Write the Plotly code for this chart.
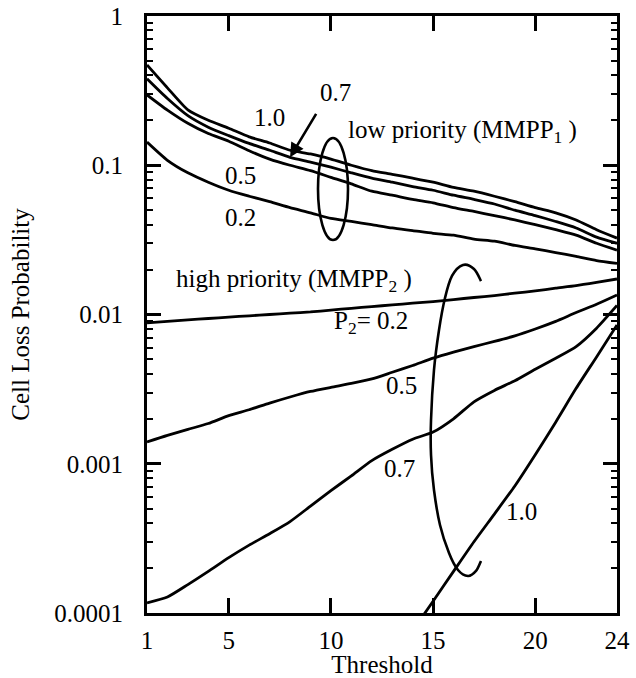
import math
import plotly.graph_objects as go

# Threshold values (buffer threshold setting)
threshold = list(range(1, 25))

# Low-priority (MMPP1) cell loss probability, one series per P2
lp_p10 = [0.47, 0.33, 0.235, 0.200, 0.177, 0.155, 0.141, 0.126, 0.119, 0.110, 0.100, 0.092,
          0.087, 0.082, 0.077, 0.071, 0.067, 0.062, 0.057, 0.052, 0.048, 0.043, 0.037, 0.0325]
lp_p07 = [0.38, 0.28, 0.215, 0.180, 0.158, 0.140, 0.126, 0.113, 0.105, 0.097, 0.089, 0.082,
          0.077, 0.072, 0.068, 0.063, 0.059, 0.055, 0.050, 0.046, 0.042, 0.038, 0.033, 0.030]
lp_p05 = [0.296, 0.234, 0.191, 0.163, 0.145, 0.125, 0.110, 0.100, 0.092, 0.083, 0.075, 0.067,
          0.063, 0.059, 0.056, 0.052, 0.049, 0.046, 0.043, 0.040, 0.037, 0.034, 0.030, 0.027]
lp_p02 = [0.143, 0.108, 0.089, 0.077, 0.068, 0.062, 0.057, 0.052, 0.048, 0.044, 0.042, 0.040,
          0.038, 0.0365, 0.035, 0.034, 0.032, 0.031, 0.029, 0.0275, 0.026, 0.0245, 0.023, 0.022]

# High-priority (MMPP2) cell loss probability
hp_p02 = [0.0088, 0.0090, 0.0092, 0.0094, 0.0096, 0.0098, 0.0100, 0.0102, 0.0104, 0.0107,
          0.0110, 0.0113, 0.0116, 0.0119, 0.0122, 0.0126, 0.0130, 0.0134, 0.0139, 0.0144,
          0.0150, 0.0156, 0.0164, 0.0173]
hp_p05 = [0.00140, 0.00155, 0.00170, 0.00186, 0.00210, 0.00230, 0.00255, 0.00280, 0.00305,
          0.00325, 0.00345, 0.00370, 0.00410, 0.00455, 0.00510, 0.00560, 0.00610, 0.00660,
          0.00720, 0.00800, 0.00900, 0.01030, 0.01170, 0.01350]
hp_p07 = [0.000117, 0.000128, 0.000155, 0.000190, 0.000235, 0.000285, 0.000340, 0.000410,
          0.000520, 0.000660, 0.000830, 0.00105, 0.00125, 0.00146, 0.00163, 0.00200,
          0.00260, 0.00310, 0.00360, 0.00430, 0.00510, 0.00610, 0.00810, 0.01150]
hp_p10_threshold = list(range(14, 25))
hp_p10 = [0.000076, 0.00012, 0.00019, 0.00030, 0.00046, 0.00071, 0.00115, 0.0019,
          0.0032, 0.0052, 0.0085]

# Axis ticks
x_tickvals = [1, 5, 10, 15, 20, 24]
y_tickvals = [0.0001, 0.001, 0.01, 0.1, 1]
y_ticktext = ["0.0001", "0.001", "0.01", "0.1", "1"]

FONT = "Liberation Serif, Times New Roman, serif"
FS = 25
W, H = 636, 678
ML, MR, MT, MB = 147, 19, 16, 65
PW, PH = W - ML - MR, H - MT - MB


def paper(px, py):
    """Page pixel -> paper fraction of the plotting area."""
    return (px - ML) / PW, (MT + PH - py) / PH


fig = go.Figure()
line_style = dict(color="black", width=2.8)
for ys in (lp_p10, lp_p07, lp_p05, lp_p02, hp_p02, hp_p05, hp_p07):
    fig.add_trace(go.Scatter(x=threshold, y=ys, mode="lines", line=line_style,
                             line_shape="spline", line_smoothing=0.6,
                             showlegend=False, hoverinfo="skip"))
fig.add_trace(go.Scatter(x=hp_p10_threshold, y=hp_p10, mode="lines", line=line_style,
                         line_shape="spline", line_smoothing=0.6,
                         showlegend=False, hoverinfo="skip"))

annotations = []


def label(text, px, py, anchor="center"):
    xp, yp = paper(px, py)
    annotations.append(dict(text=text, x=xp, y=yp, xref="paper", yref="paper",
                            xanchor=anchor, yanchor="middle", showarrow=False,
                            font=dict(family=FONT, size=FS, color="black")))


# low-priority group labels
label("1.0", 269, 117)
label("0.7", 335, 93)
label("0.5", 240, 175)
label("0.2", 240, 217)
label("low priority (MMPP<sub>1</sub> )", 346, 131, "left")
# high-priority group labels
label("high priority (MMPP<sub>2</sub> )", 174, 280, "left")
label("P<sub>2</sub>= 0.2", 332, 322, "left")
label("0.5", 401, 386)
label("0.7", 399, 468)
label("1.0", 521, 511)

# arrow pointing at the P2 = 0.7 low-priority curve
arrow_x = 8
annotations.append(dict(text="", x=arrow_x, y=math.log10(lp_p07[threshold.index(arrow_x)]),
                        xref="x", yref="y", showarrow=True, ax=27, ay=-45,
                        arrowhead=2, arrowsize=1.1, arrowwidth=2.6, arrowcolor="black"))

# Bracket ellipse around the low-priority curves
ex0, ey0 = paper(318, 240)
ex1, ey1 = paper(348, 138)
shapes = [dict(type="circle", xref="paper", yref="paper", x0=ex0, y0=ey0, x1=ex1, y1=ey1,
               line=dict(color="black", width=2.6))]

# Open hand-drawn loop around the high-priority curves
loop_px = [(481, 281), (474, 269), (463, 265), (452, 276), (445, 298), (439, 330),
           (434, 370), (431, 420), (431, 455), (434, 490), (440, 525), (449, 553),
           (458, 570), (468, 576), (476, 571), (481, 561)]
pts = [paper(px, py) for px, py in loop_px]
path = "M {:.4f},{:.4f}".format(*pts[0])
for i in range(len(pts) - 1):
    p0 = pts[i - 1] if i > 0 else pts[i]
    p1, p2 = pts[i], pts[i + 1]
    p3 = pts[i + 2] if i + 2 < len(pts) else pts[i + 1]
    c1 = (p1[0] + (p2[0] - p0[0]) / 6, p1[1] + (p2[1] - p0[1]) / 6)
    c2 = (p2[0] - (p3[0] - p1[0]) / 6, p2[1] - (p3[1] - p1[1]) / 6)
    path += " C {:.4f},{:.4f} {:.4f},{:.4f} {:.4f},{:.4f}".format(*c1, *c2, *p2)
shapes.append(dict(type="path", xref="paper", yref="paper", path=path,
                   line=dict(color="black", width=2.6)))

axis_font = dict(family=FONT, size=FS, color="black")
fig.update_layout(
    width=W, height=H,
    margin=dict(l=ML, r=MR, t=MT, b=MB, pad=0, autoexpand=False),
    paper_bgcolor="white", plot_bgcolor="white",
    font=axis_font,
    annotations=annotations,
    shapes=shapes,
    xaxis=dict(
        range=[1, 24], tickmode="array", tickvals=x_tickvals, automargin=False,
        ticks="inside", ticklen=15, tickwidth=2.5, tickcolor="black",
        showline=True, linewidth=3, linecolor="black", mirror="allticks",
        showgrid=False, zeroline=False, tickfont=axis_font, ticklabelstandoff=3,
        title=dict(text="Threshold", font=axis_font, standoff=0),
    ),
    yaxis=dict(
        type="log", range=[-4, 0], tickmode="array", tickvals=y_tickvals,
        ticktext=y_ticktext, automargin=False,
        ticks="inside", ticklen=14, tickwidth=2.5, tickcolor="black",
        minor=dict(ticks="inside", ticklen=6, tickwidth=2, tickcolor="black",
                   dtick="D1", showgrid=False),
        showline=True, linewidth=3, linecolor="black", mirror="allticks",
        showgrid=False, zeroline=False, tickfont=axis_font, ticklabelstandoff=16,
        title=dict(text="Cell Loss Probability", font=axis_font, standoff=18),
    ),
)

fig.write_html("out.html")
